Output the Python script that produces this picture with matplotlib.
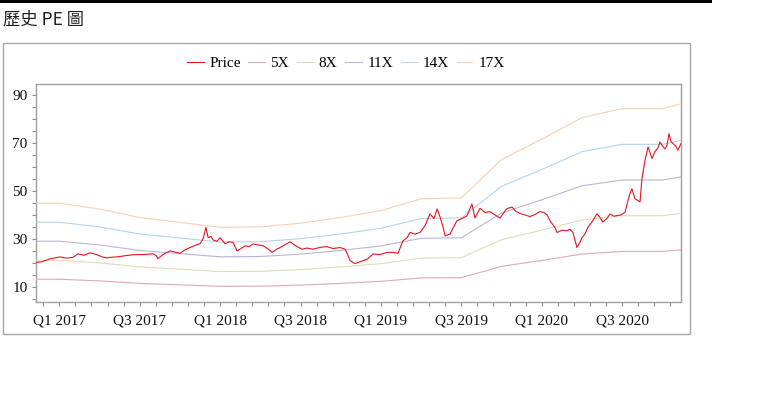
import numpy as np
import matplotlib
matplotlib.use("Agg")
import matplotlib.pyplot as plt
from matplotlib.patches import Rectangle
from matplotlib.ticker import MultipleLocator, FixedLocator

# ---------------- data ----------------
# time axis in fractional years (2017.0 = Q1 2017, 2017.5 = Q3 2017)
price_t = [2016.855, 2016.892, 2016.942, 2017.004, 2017.042, 2017.085, 2017.116, 2017.153, 2017.191,
           2017.234, 2017.266, 2017.297, 2017.328, 2017.359, 2017.409, 2017.458, 2017.521, 2017.583,
           2017.602, 2017.614, 2017.645, 2017.688, 2017.720, 2017.751, 2017.782, 2017.813, 2017.844,
           2017.875, 2017.894, 2017.912, 2017.925, 2017.943, 2017.956, 2017.981, 2018.000, 2018.031,
           2018.056, 2018.080, 2018.105, 2018.130, 2018.155, 2018.180, 2018.205, 2018.236, 2018.267,
           2018.298, 2018.323, 2018.348, 2018.373, 2018.404, 2018.435, 2018.473, 2018.510, 2018.541,
           2018.578, 2018.622, 2018.664, 2018.702, 2018.746, 2018.777, 2018.796, 2018.808, 2018.839,
           2018.870, 2018.914, 2018.951, 2018.995, 2019.038, 2019.075, 2019.106, 2019.137, 2019.162,
           2019.181, 2019.212, 2019.243, 2019.274, 2019.305, 2019.330, 2019.349, 2019.367, 2019.386,
           2019.399, 2019.430, 2019.448, 2019.473, 2019.504, 2019.535, 2019.566, 2019.585, 2019.616,
           2019.647, 2019.678, 2019.709, 2019.741, 2019.765, 2019.783, 2019.815, 2019.839, 2019.865,
           2019.896, 2019.927, 2019.958, 2019.989, 2020.014, 2020.033, 2020.057, 2020.082, 2020.095,
           2020.126, 2020.157, 2020.175, 2020.194, 2020.219, 2020.237, 2020.250, 2020.268, 2020.287,
           2020.312, 2020.343, 2020.362, 2020.380, 2020.405, 2020.424, 2020.449, 2020.467, 2020.492,
           2020.518, 2020.536, 2020.549, 2020.561, 2020.580, 2020.599, 2020.611, 2020.623, 2020.642,
           2020.661, 2020.673, 2020.686, 2020.704, 2020.723, 2020.735, 2020.754, 2020.767, 2020.779,
           2020.791, 2020.804, 2020.816, 2020.835, 2020.847, 2020.866]
price = [20.2, 20.5, 21.7, 22.5, 22.0, 22.3, 23.8, 23.2, 24.2,
         23.4, 22.5, 22.1, 22.4, 22.5, 23.0, 23.4, 23.5, 23.8,
         23.0, 21.8, 23.5, 25.0, 24.5, 24.0, 25.5, 26.4, 27.3,
         28.0, 30.0, 34.8, 30.6, 31.0, 29.6, 29.0, 30.5, 28.0,
         28.8, 28.6, 25.0, 26.0, 27.1, 26.8, 27.9, 27.5, 27.2,
         25.8, 24.4, 25.6, 26.4, 27.6, 28.8, 27.0, 25.7, 26.2,
         25.7, 26.5, 26.8, 26.0, 26.4, 25.7, 23.0, 20.9, 19.7,
         20.5, 21.5, 23.7, 23.5, 24.4, 24.4, 24.0, 29.2, 30.5,
         32.7, 32.0, 32.7, 35.5, 40.4, 38.5, 42.5, 39.3, 35.0,
         31.3, 32.0, 34.5, 37.6, 38.5, 39.6, 44.6, 38.7, 42.8,
         41.0, 41.4, 40.0, 38.7, 41.0, 42.6, 43.3, 41.5, 40.6,
         40.0, 39.3, 40.2, 41.4, 41.0, 40.0, 37.0, 34.8, 32.7,
         33.6, 33.4, 34.0, 32.7, 26.4, 28.5, 30.5, 32.0, 34.8,
         37.0, 40.4, 39.0, 37.0, 38.5, 40.4, 39.5, 39.7, 40.0,
         41.1, 46.0, 49.0, 50.9, 46.7, 46.0, 45.4, 55.1, 62.7,
         68.3, 66.0, 63.5, 66.4, 68.0, 70.4, 68.5, 67.5, 69.0,
         73.9, 70.5, 69.8, 68.5, 67.0, 69.8]

# trailing EPS at quarter knots (PE bands = EPS x multiple)
eps_t = [2016.855, 2017.0, 2017.25, 2017.5, 2017.75, 2018.0, 2018.25, 2018.5, 2018.75,
         2019.0, 2019.25, 2019.5, 2019.75, 2020.0, 2020.25, 2020.5, 2020.75, 2020.866]
eps = [2.64, 2.64, 2.50, 2.29, 2.17, 2.05, 2.06, 2.15, 2.29,
       2.46, 2.75, 2.77, 3.71, 4.21, 4.74, 4.96, 4.96, 5.08]

multiples = [5, 8, 11, 14, 17]
band_labels = ["5X", "8X", "11X", "14X", "17X"]
band_colors = ["#e0aab3", "#e0dcb6", "#bcb5d8", "#b3d5e8", "#f8d0b2"]
price_color = "#e8141e"

xtick_pos = [2017.0, 2017.5, 2018.0, 2018.5, 2019.0, 2019.5, 2020.0, 2020.5]
xtick_labels = ["Q1 2017", "Q3 2017", "Q1 2018", "Q3 2018", "Q1 2019", "Q3 2019", "Q1 2020", "Q3 2020"]
ytick_pos = [10, 30, 50, 70, 90]

# ---------------- figure ----------------
W, H = 762, 397
fig = plt.figure(figsize=(W / 100, H / 100), dpi=100)
fig.patch.set_facecolor("white")

serif = ["Liberation Serif", "DejaVu Serif"]

# top black bar
fig.add_artist(Rectangle((0, 1 - 3.3 / H), 712 / W, 3.3 / H, transform=fig.transFigure,
                         facecolor="black", edgecolor="none"))
# title
fig.text(3 / W, 1 - 20 / H, "歷史 PE 圖", ha="left", va="center", fontsize=12.5,
         family=["Noto Sans CJK TC", "DejaVu Sans"], color="#222222")
# outer chart frame
fig.add_artist(Rectangle((3 / W, 1 - 334 / H), 687 / W, 291 / H, transform=fig.transFigure,
                         fill=False, edgecolor="#a8a8a8", linewidth=1.0))

ax = fig.add_axes([36 / W, 1 - 302 / H, 645 / W, 218 / H])

handles = []
h, = ax.plot(price_t, price, color=price_color, lw=0.8, label="Price", zorder=5)
handles.append(h)
eps_arr = np.array(eps)
for m, lab, c in zip(multiples, band_labels, band_colors):
    h, = ax.plot(eps_t, eps_arr * m, color=c, lw=0.8, label=lab, zorder=3)
    handles.append(h)

ax.set_xlim(2016.855, 2020.866)
ax.set_ylim(3.7, 94.6)

ax.xaxis.set_major_locator(FixedLocator(xtick_pos))
ax.set_xticklabels(xtick_labels)
ax.xaxis.set_minor_locator(FixedLocator(np.round(np.arange(2016.9, 2020.86, 0.1), 3)))
ax.yaxis.set_major_locator(FixedLocator(ytick_pos))
ax.yaxis.set_minor_locator(MultipleLocator(5))

for sp in ax.spines.values():
    sp.set_color("#a0a0a0")
    sp.set_linewidth(1.0)

ax.tick_params(axis="both", which="both", direction="out", color="#909090", length=3, width=0.8)
ax.tick_params(axis="x", which="major", pad=6)
ax.tick_params(axis="y", which="major", pad=3)
for lbl in ax.get_xticklabels() + ax.get_yticklabels():
    lbl.set_family(serif)
    lbl.set_fontsize(11)
    lbl.set_color("#111111")

fig.legend(handles=handles, labels=[hh.get_label() for hh in handles], loc="center",
           bbox_to_anchor=(346 / W, 1 - 63 / H), ncol=6, frameon=False,
           prop={"family": serif, "size": 11}, handlelength=1.1, handletextpad=0.35,
           columnspacing=0.5, borderpad=0.2)

fig.savefig("out.png", dpi=100)
